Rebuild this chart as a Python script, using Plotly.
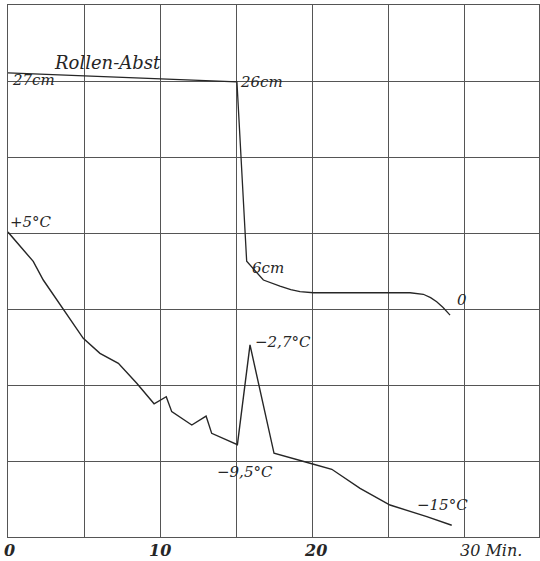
import plotly.graph_objects as go

# Temperature of the sample (°C) against time (min)
temp_min = [0.0, 0.46, 1.66, 2.32, 3.64, 4.95, 6.05, 7.26, 8.47, 9.61, 10.41,
            10.77, 12.09, 13.03, 13.40, 15.09, 15.92, 17.50, 19.87, 21.30,
            23.16, 25.13, 27.55, 29.19]
temp_c = [5.0, 4.46, 3.0, 1.73, -0.31, -2.25, -3.27, -3.95, -5.31, -6.71, -6.23,
          -7.25, -8.16, -7.55, -8.73, -9.5, -2.7, -10.09, -10.77, -11.18,
          -12.48, -13.62, -14.41, -15.0]

# Roller distance (cm) against time (min)
roll_min = [0.0, 15.06, 15.70, 16.80, 17.89, 18.60, 19.21, 20.09, 26.45, 27.32,
            27.80, 28.20, 28.62, 29.08]
roll_cm = [27.0, 26.0, 6.0, 3.91, 3.24, 2.85, 2.61, 2.49, 2.49, 2.32,
           1.95, 1.49, 0.85, 0.0]

# Text labels: (text, minute, grid-row position, font size)
curve_labels = [
    ("Rollen-Abst", 2.9, 6.24, 18),
    ("27cm", 0.13, 6.01, 15),
    ("26cm", 15.13, 5.99, 15),
    ("6cm", 15.92, 3.54, 15),
    ("0", 29.4, 3.12, 15),
    ("+5°C", 0.0, 4.15, 15),
    ("−2,7°C", 16.12, 2.57, 15),
    ("−9,5°C", 13.62, 0.86, 15),
    ("−15°C", 26.78, 0.42, 15),
]
x_tick_labels = [("0", 0.07), ("10", 10.0), ("20", 20.2)]
x_unit_label = ("30 Min.", 29.6)

INK = "#262626"
GRID = "#555555"
FONT = "DejaVu Serif"

fig = go.Figure()

# invisible trace to anchor the grid axis
fig.add_trace(go.Scatter(x=[0, 35], y=[0, 7], mode="markers",
                         marker=dict(opacity=0), hoverinfo="skip",
                         showlegend=False))
fig.add_trace(go.Scatter(x=roll_min, y=roll_cm, mode="lines", yaxis="y3",
                         line=dict(color=INK, width=1.3), showlegend=False))
fig.add_trace(go.Scatter(x=temp_min, y=temp_c, mode="lines", yaxis="y2",
                         line=dict(color=INK, width=1.4), showlegend=False))

annotations = []
for text, xm, yg, size in curve_labels:
    annotations.append(dict(text=f"<i>{text}</i>", x=xm, y=yg, xref="x", yref="y",
                            xanchor="left", yanchor="middle", showarrow=False,
                            font=dict(family=FONT, size=size, color=INK)))
for text, xm in x_tick_labels:
    annotations.append(dict(text=f"<b><i>{text}</i></b>", x=xm, y=-0.026,
                            xref="x", yref="paper", xanchor="center",
                            yanchor="middle", showarrow=False,
                            font=dict(family=FONT, size=16, color=INK)))
annotations.append(dict(text=f"<i>{x_unit_label[0]}</i>", x=x_unit_label[1], y=-0.026,
                        xref="x", yref="paper", xanchor="left", yanchor="middle",
                        showarrow=False, font=dict(family=FONT, size=16, color=INK)))

fig.update_layout(
    width=540, height=561,
    margin=dict(l=8, r=1, t=5, b=24),
    paper_bgcolor="white", plot_bgcolor="white",
    xaxis=dict(range=[0, 34.93], dtick=5, showgrid=True, gridcolor=GRID, gridwidth=1,
               zeroline=False, showticklabels=False, ticks="",
               showline=True, linecolor=GRID, linewidth=1, mirror=True),
    yaxis=dict(range=[0, 7], dtick=1, showgrid=True, gridcolor=GRID, gridwidth=1,
               zeroline=False, showticklabels=False, ticks="",
               showline=True, linecolor=GRID, linewidth=1, mirror=True),
    yaxis2=dict(range=[-15.80, 20.49], overlaying="y", visible=False),
    yaxis3=dict(range=[-24.75, 34.58], overlaying="y", visible=False),
    annotations=annotations,
)

fig.write_html("out.html")
